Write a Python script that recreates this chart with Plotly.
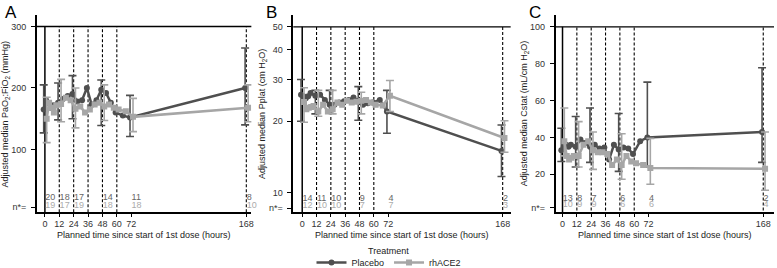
import plotly.graph_objects as go
import math

# ---------------- data ----------------
TIMES = [0, 2, 4, 6, 8, 12, 16, 20, 24, 28, 32, 36, 40, 44, 48, 52, 56, 60, 66, 72, 168]
KEY_TIMES = [0, 12, 24, 48, 72, 168]
SOLID_REF = [0]
DASHED_REF = [12, 24, 36, 48, 60, 168]
X_TICKS = [0, 12, 24, 36, 48, 60, 72, 168]

# Panel A: PaO2:FiO2
A_placebo = [165, 180, 175, 168, 172, 176, 182, 187, 190, 178, 180, 200, 173, 180, 197, 192, 176, 160, 155, 152, 200]
A_rhace2 = [150, 176, 168, 160, 172, 174, 184, 180, 166, 170, 160, 165, 173, 176, 170, 173, 168, 165, 162, 153, 168]
A_placebo_lo = [127, 148, 150, 139, 121, 140]
A_placebo_hi = [205, 208, 220, 213, 188, 265]
A_rhace2_lo = [111, 145, 135, 147, 129, 145]
A_rhace2_hi = [185, 214, 200, 205, 183, 205]
A_n_placebo = ["20", "18", "17", "14", "11", "8"]
A_n_rhace2 = ["19", "17", "19", "18", "18", "10"]

# Panel B: Pplat (log scale)
B_placebo = [25.9, 25.5, 25.0, 25.5, 26.3, 25.6, 25.9, 24.6, 23.5, 23.5, 24.0, 24.3, 24.6, 25.2, 24.4, 23.5, 23.8, 24.0, 24.6, 22.0, 15.0]
B_rhace2 = [24.1, 22.5, 22.8, 23.0, 23.2, 22.0, 23.5, 22.0, 22.5, 24.0, 23.5, 24.4, 24.0, 24.2, 24.4, 24.6, 24.0, 23.5, 23.3, 25.6, 17.0]
B_placebo_lo = [20.0, 21.5, 22.0, 20.2, 17.8, 11.7]
B_placebo_hi = [30.0, 27.0, 27.0, 28.0, 27.0, 19.3]
B_rhace2_lo = [19.8, 21.0, 21.5, 21.5, 22.0, 14.8]
B_rhace2_hi = [27.7, 27.0, 27.0, 26.5, 29.7, 20.1]
B_n_placebo = ["14", "11", "10", "9", "4", "2"]
B_n_rhace2 = ["12", "10", "10", "7", "7", "3"]

# Panel C: Cstat
C_placebo = [33, 35, 36, 35, 36, 35, 38.9, 37, 35, 36, 34, 34.5, 28, 36, 33.5, 34.6, 34, 31, 38, 40, 43]
C_rhace2 = [38, 30, 28, 29, 30, 30, 36, 38, 33, 32, 32, 31, 25, 28, 25, 30, 27, 26, 25, 23.5, 23]
C_placebo_lo = [27, 24, 26.5, 21.6, 24, 26.5]
C_placebo_hi = [45, 51.4, 56, 53, 70, 77.8]
C_rhace2_lo = [30, 24, 22.7, 17.3, 14.6, 11.4]
C_rhace2_hi = [56, 48.6, 43, 42, 39.5, 43]
C_n_placebo = ["13", "8", "7", "6", "4", "2"]
C_n_rhace2 = ["10", "9", "9", "6", "6", "4"]

# ---------------- style ----------------
DARK = "#4f4f4f"
LIGHT = "#a6a6a6"
N_DARK = "#666666"
N_LIGHT = "#ababab"
FONT = "Liberation Sans, Arial, sans-serif"
W, H = 777, 278   # page window shows the top 268 px
DODGE_P = -1.0
DODGE_R = 1.5

def px_x(p):
    return p / W

def px_y(p):
    return 1 - p / H

Y_DOM = [px_y(212.7), px_y(15.5)]

panels = [
    dict(key="", letter="A", xdom=[37, 252], xr=[-6.66, 172.2],
         ytype="linear", yr=[-1.7, 318], top=300, yticks=[6, 100, 200, 300],
         yticktext=["n*=", "100", "200", "300"], nrow=[21, 8.6], bottom=-100,
         title="Adjusted median PaO<sub>2</sub>:FiO<sub>2</sub> (mmHg)",
         p=A_placebo, r=A_rhace2, plo=A_placebo_lo, phi=A_placebo_hi,
         rlo=A_rhace2_lo, rhi=A_rhace2_hi, pn=A_n_placebo, rn=A_n_rhace2),
    dict(key="2", letter="B", xdom=[294, 512], xr=[-7.52, 174.7],
         ytype="log", yr=[math.log10(8.3), 1.747], top=50, yticks=[8.6, 10, 20, 30, 40, 50],
         yticktext=["n*=", "10", "20", "30", "40", "50"], nrow=[9.43, 8.85], bottom=1,
         title="Adjusted median Pplat (cm H<sub>2</sub>O)",
         p=B_placebo, r=B_rhace2, plo=B_placebo_lo, phi=B_placebo_hi,
         rlo=B_rhace2_lo, rhi=B_rhace2_hi, pn=B_n_placebo, rn=B_n_rhace2),
    dict(key="3", letter="C", xdom=[557, 776], xr=[-5.82, 177.0],
         ytype="linear", yr=[-0.4, 106.2], top=100, yticks=[2.0, 20, 40, 60, 80, 100],
         yticktext=["n*=", "20", "40", "60", "80", "100"], nrow=[7.0, 3.3], bottom=-100,
         title="Adjusted median Cstat (mL/cm H<sub>2</sub>O)",
         p=C_placebo, r=C_rhace2, plo=C_placebo_lo, phi=C_placebo_hi,
         rlo=C_rhace2_lo, rhi=C_rhace2_hi, pn=C_n_placebo, rn=C_n_rhace2),
]

fig = go.Figure()
annotations = []
layout_axes = {}

for i, P in enumerate(panels):
    k = P["key"]
    xa, ya = "x" + k, "y" + k
    # reference lines
    fig.add_trace(go.Scatter(x=[P["xr"][0] - 50, P["xr"][1] + 50], y=[P["top"], P["top"]],
                             xaxis=xa, yaxis=ya, mode="lines", line=dict(color="black", width=1.3),
                             showlegend=False, hoverinfo="skip"))
    for t in SOLID_REF:
        fig.add_trace(go.Scatter(x=[t, t], y=[P["bottom"], P["top"]], xaxis=xa, yaxis=ya,
                                 mode="lines", line=dict(color="black", width=1.5),
                                 showlegend=False, hoverinfo="skip"))
    for t in DASHED_REF:
        fig.add_trace(go.Scatter(x=[t, t], y=[P["bottom"], P["top"]], xaxis=xa, yaxis=ya,
                                 mode="lines", line=dict(color="black", width=1.1, dash="3px,2px"),
                                 showlegend=False, hoverinfo="skip"))
    # series
    for vals, lo, hi, col, sym, name, dodge in [
        (P["p"], P["plo"], P["phi"], DARK, "circle", "Placebo", DODGE_P),
        (P["r"], P["rlo"], P["rhi"], LIGHT, "square", "rhACE2", DODGE_R),
    ]:
        lookup = dict(zip(TIMES, vals))
        med = [lookup[t] for t in KEY_TIMES]
        fig.add_trace(go.Scatter(
            x=[t + dodge for t in KEY_TIMES], y=med, xaxis=xa, yaxis=ya, mode="markers",
            marker=dict(size=1, opacity=0, color=col),
            error_y=dict(type="data", symmetric=False,
                         array=[h - m for h, m in zip(hi, med)],
                         arrayminus=[m - l for m, l in zip(med, lo)],
                         color=col, thickness=1.6, width=4),
            showlegend=False, hoverinfo="skip"))
        fig.add_trace(go.Scatter(
            x=[t + dodge for t in TIMES], y=vals, xaxis=xa, yaxis=ya, mode="lines+markers",
            line=dict(color=col, width=2.5), marker=dict(color=col, size=6, symbol=sym),
            name=name, showlegend=(i == 0), legendgroup=name))
    # n labels
    for txts, row, col in [(P["pn"], P["nrow"][0], N_DARK), (P["rn"], P["nrow"][1], N_LIGHT)]:
        fig.add_trace(go.Scatter(
            x=[t + 0.3 for t in KEY_TIMES], y=[row] * len(KEY_TIMES), xaxis=xa, yaxis=ya,
            mode="text", text=txts, textposition="middle right", cliponaxis=False,
            textfont=dict(size=9, color=col, family=FONT), showlegend=False, hoverinfo="skip"))

    layout_axes["xaxis" + k] = dict(
        domain=[px_x(P["xdom"][0]), px_x(P["xdom"][1])], range=P["xr"], anchor=ya,
        showgrid=False, zeroline=False, showline=True, linecolor="black", linewidth=1.5,
        ticks="outside", ticklen=3, tickwidth=1, tickcolor="black",
        tickvals=X_TICKS, ticktext=[str(t) for t in X_TICKS],
        tickfont=dict(size=9, color="#333333", family=FONT))
    layout_axes["yaxis" + k] = dict(
        domain=Y_DOM, range=P["yr"], type=P["ytype"], anchor=xa,
        showgrid=False, zeroline=False, showline=True, linecolor="black", linewidth=1.5,
        ticks="outside", ticklen=4, tickwidth=1, tickcolor="black",
        tickvals=P["yticks"], ticktext=P["yticktext"], ticklabelstandoff=3,
        tickfont=dict(size=9, color="#333333", family=FONT))

    annotations.append(dict(text=P["letter"], x=px_x(P["xdom"][0] - 34 if i == 0 else P["xdom"][0] - 29),
                            y=px_y(1), xref="paper", yref="paper", xanchor="left", yanchor="top",
                            showarrow=False, font=dict(size=17, color="black", family=FONT)))
    annotations.append(dict(text=P["title"], x=px_x(P["xdom"][0] - 31), y=px_y(114),
                            xref="paper", yref="paper", textangle=-90, xanchor="center",
                            yanchor="middle", showarrow=False,
                            font=dict(size=9, color="#222222", family=FONT)))
    annotations.append(dict(text="Planned time since start of 1st dose (hours)",
                            x=px_x((P["xdom"][0] + P["xdom"][1]) / 2), y=px_y(236),
                            xref="paper", yref="paper", xanchor="center", yanchor="middle",
                            showarrow=False, font=dict(size=9, color="#222222", family=FONT)))

annotations.append(dict(text="Treatment", x=px_x(390), y=px_y(252), xref="paper", yref="paper",
                        xanchor="center", yanchor="middle", showarrow=False,
                        font=dict(size=9, color="#222222", family=FONT)))

fig.update_layout(
    width=W, height=H, margin=dict(l=0, r=0, t=0, b=0),
    paper_bgcolor="white", plot_bgcolor="white",
    font=dict(family=FONT, size=9, color="#222222"),
    annotations=annotations,
    legend=dict(orientation="h", x=px_x(390), xanchor="center", y=0, yanchor="bottom",
                font=dict(size=9), itemwidth=30, bgcolor="rgba(0,0,0,0)",
                tracegroupgap=0),
    **layout_axes,
)

fig.write_html("out.html", config={"displayModeBar": False},
               post_script="document.body.style.margin='0';document.body.style.overflow='hidden';")
